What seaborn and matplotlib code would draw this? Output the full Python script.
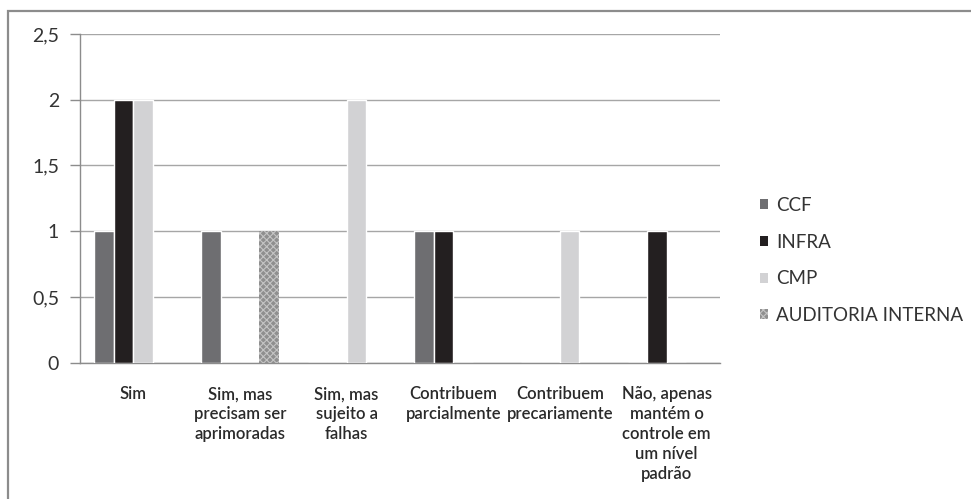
import numpy as np
import pandas as pd
import seaborn as sns
import matplotlib.pyplot as plt
from matplotlib.patches import Rectangle, Patch

categories = [
    "Sim",
    "Sim, mas\nprecisam ser\naprimoradas",
    "Sim, mas\nsujeito a\nfalhas",
    "Contribuem\nparcialmente",
    "Contribuem\nprecariamente",
    "Não, apenas\nmantém o\ncontrole em\num nível\npadrão",
]
series = ["CCF", "INFRA", "CMP", "AUDITORIA INTERNA"]
ccf = [1, 1, 0, 1, 0, 0]
infra = [2, 0, 0, 1, 0, 1]
cmp_ = [2, 0, 2, 0, 1, 0]
auditoria = [0, 1, 0, 0, 0, 0]
yticks = [0, 0.5, 1, 1.5, 2, 2.5]
ytick_labels = ["0", "0,5", "1", "1,5", "2", "2,5"]

colors = {"CCF": "#6e6e71", "INFRA": "#231f20", "CMP": "#d2d2d4",
          "AUDITORIA INTERNA": "#8f8f8f"}

rows = []
for name, vals in zip(series, [ccf, infra, cmp_, auditoria]):
    for cat, v in zip(categories, vals):
        rows.append({"categoria": cat, "serie": name, "valor": v})
df = pd.DataFrame(rows)

sns.set_theme(style="white")
plt.rcParams["font.family"] = ["Lato", "DejaVu Sans"]
plt.rcParams["hatch.color"] = "#c4c4c4"
plt.rcParams["hatch.linewidth"] = 0.8

W, H = 971, 499
fig = plt.figure(figsize=(W / 100, H / 100), dpi=100)
fig.patch.set_facecolor("white")
ax = fig.add_axes([80 / W, 1 - 362.7 / H, 640 / W, (362.7 - 34) / H])

sns.barplot(data=df, x="categoria", y="valor", hue="serie", order=categories,
            hue_order=series, palette=colors, width=0.73, saturation=1,
            errorbar=None, ax=ax, legend=False, zorder=3)

# textured fill for the internal audit bars
for bar in ax.containers[3]:
    bar.set_hatch("xxxxx")
    bar.set_edgecolor("#c4c4c4")
    bar.set_linewidth(0)

ax.set_ylim(0, 2.5)
ax.set_xlim(-0.5, len(categories) - 0.5)
ax.set_yticks(yticks)
ax.set_yticklabels(ytick_labels, fontsize=14, color="#333333")
ax.yaxis.grid(True, color="#a6a6a6", linewidth=1)
ax.set_axisbelow(True)
ax.set_xlabel("")
ax.set_ylabel("")

ax.set_xticks(range(len(categories)))
ax.set_xticklabels(categories, fontsize=12, color="#2a2a2a",
                   linespacing=1.31, fontweight="semibold", va="top")
ax.tick_params(axis="x", which="major", length=0, pad=17)
ax.set_xticks(np.arange(-0.5, len(categories), 1.0), minor=True)
ax.tick_params(axis="x", which="minor", length=5, color="#8c8c8c", width=1)
ax.tick_params(axis="y", which="major", length=7, color="#8c8c8c", width=1,
               pad=8, left=True)

for s in ["top", "right"]:
    ax.spines[s].set_visible(False)
for s in ["left", "bottom"]:
    ax.spines[s].set_color("#8c8c8c")
    ax.spines[s].set_linewidth(1)

handles = []
for name in series:
    p = Patch(facecolor=colors[name], edgecolor="none")
    if name == "AUDITORIA INTERNA":
        p = Patch(facecolor=colors[name], edgecolor="#c4c4c4", hatch="xxxxx",
                  linewidth=0)
    handles.append(p)
fig.legend(handles, series, loc="upper left",
           bbox_to_anchor=(743 / W, 1 - 180 / H), frameon=False,
           fontsize=13.5, handlelength=0.45, handleheight=0.45,
           handletextpad=0.4, labelspacing=1.05, labelcolor="#333333")

fig.add_artist(Rectangle((8 / W, -0.05), 1.2, 1 - 11 / H + 0.05,
                         transform=fig.transFigure, fill=False,
                         edgecolor="#8c8c8c", linewidth=1.6))

fig.savefig("out.png", dpi=100, facecolor="white")
